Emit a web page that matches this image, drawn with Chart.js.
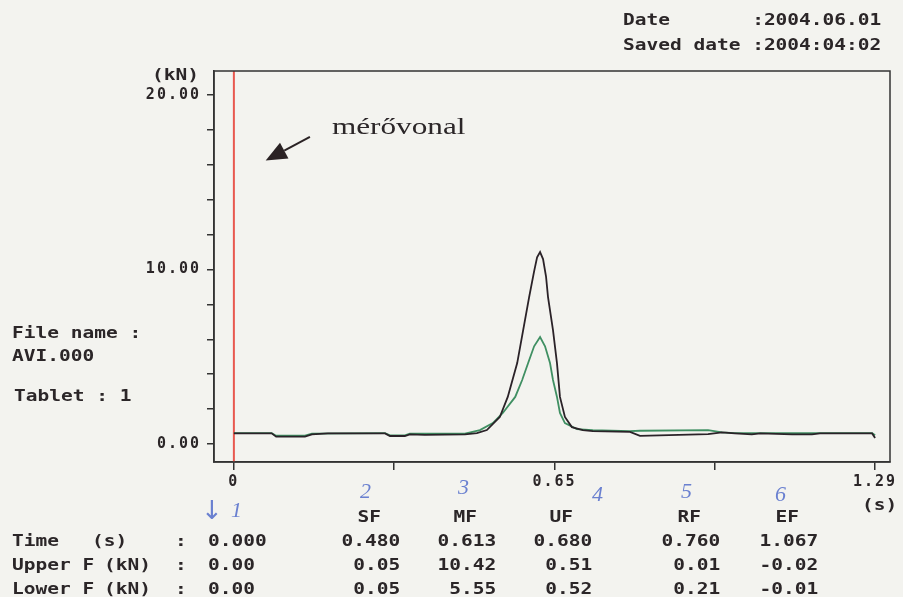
<!DOCTYPE html>
<html>
<head>
<meta charset="utf-8">
<title>AVI.000 - Tablet 1</title>
<script src="https://cdn.jsdelivr.net/npm/chart.js@4/dist/chart.umd.min.js"></script>
<style>
  html, body { margin: 0; padding: 0; background: #f3f3ef; }
  #wrap { position: relative; width: 903px; height: 597px; overflow: hidden; }
  #chart { position: absolute; left: 0; top: 0; }
  .t { position: absolute; font: bold 15px "DejaVu Sans Mono", monospace; color: #2b2628;
       white-space: pre; line-height: 16px; transform: scaleX(1.3); transform-origin: 0 50%; }
  .t.r { transform-origin: 100% 50%; text-align: right; }
  .hand { position: absolute; font: italic 22px "Liberation Serif", serif; color: #6a80d0; line-height: 22px; }
  .hand.big { font: 26px "DejaVu Sans", sans-serif; line-height: 26px; }
  .note { position: absolute; font: 24px "Liberation Serif", serif; color: #2b2628; line-height: 26px;
          transform: scaleX(1.3); transform-origin: 0 50%; white-space: pre; }
</style>
</head>
<body>
<div id="wrap">
  <canvas id="chart" width="903" height="597"></canvas>
</div>
<script>
// upper punch force (black) and lower punch force (green), kN over time, s
const upperTime = [0, 0.076, 0.085, 0.143, 0.157, 0.189, 0.304, 0.314, 0.344, 0.354, 0.384, 0.465, 0.489, 0.509, 0.535,
  0.551, 0.570, 0.582, 0.594, 0.604, 0.610, 0.616, 0.622, 0.628, 0.632, 0.642, 0.650, 0.656, 0.666, 0.680, 0.702,
  0.722, 0.797, 0.817, 0.954, 0.982, 1.008, 1.042, 1.059, 1.123, 1.163, 1.179, 1.284, 1.290];
const upperForce = [0.61, 0.61, 0.42, 0.42, 0.55, 0.61, 0.61, 0.46, 0.46, 0.55, 0.52, 0.55, 0.63, 0.80, 1.55,
  2.70, 4.64, 6.53, 8.42, 9.90, 10.70, 11.00, 10.60, 9.60, 8.42, 6.53, 4.64, 2.70, 1.55, 0.97, 0.80,
  0.74, 0.70, 0.47, 0.57, 0.67, 0.61, 0.55, 0.61, 0.55, 0.55, 0.61, 0.61, 0.35];
const lowerTime = [0, 0.076, 0.085, 0.143, 0.157, 0.304, 0.314, 0.344, 0.354, 0.465, 0.495, 0.521, 0.541, 0.566,
  0.580, 0.592, 0.604, 0.616, 0.626, 0.636, 0.642, 0.650, 0.656, 0.666, 0.690, 0.722, 0.797, 0.817, 0.954, 0.982,
  1.008, 1.284, 1.290];
const lowerForce = [0.63, 0.63, 0.48, 0.48, 0.60, 0.63, 0.50, 0.50, 0.60, 0.60, 0.80, 1.20, 1.78, 2.70,
  3.67, 4.64, 5.60, 6.13, 5.60, 4.64, 3.67, 2.70, 1.78, 1.20, 0.86, 0.80, 0.74, 0.76, 0.80, 0.67,
  0.63, 0.63, 0.50];
const markerTime = 0;

const xTicks = [0, 0.3225, 0.645, 0.9675, 1.29];
const xTickLabels = ['0', '', '0.65', '', '1.29'];
const yTicks = [0, 2, 4, 6, 8, 10, 12, 14, 16, 18, 20];
const yTickLabels = { 0: '0.00', 10: '10.00', 20: '20.00' };

// measurement table
const columnNames = ['SF', 'MF', 'UF', 'RF', 'EF'];
const rowNames = ['Time', 'Upper F', 'Lower F'];
const rowUnits = ['(s)', '(kN)', '(kN)'];
const startValues = ['0.000', '0.00', '0.00'];
const timeRow = ['0.480', '0.613', '0.680', '0.760', '1.067'];
const upperRow = ['0.05', '10.42', '0.51', '0.01', '-0.02'];
const lowerRow = ['0.05', '5.55', '0.52', '0.21', '-0.01'];
const handMarks = ['\u2193', '1', '2', '3', '4', '5', '6'];

const xMin = -0.040, xMax = 1.320, yMin = -1.03, yMax = 21.38;
const ink = '#2b2628';
const tickFont = { family: '"DejaVu Sans Mono", monospace', size: 15, weight: 'bold' };

const wrap = document.getElementById('wrap');
function addText(str, x, yc, cls, right) {
  const d = document.createElement('div');
  d.className = cls + (right ? ' r' : '');
  d.textContent = str;
  if (right) d.style.right = (903 - x) + 'px'; else d.style.left = x + 'px';
  d.style.top = (yc - 8) + 'px';
  wrap.appendChild(d);
  return d;
}

addText('Date       :2004.06.01', 623, 20, 't');
addText('Saved date :2004:04:02', 623, 45, 't');
addText('(kN)', 152, 75, 't');
addText('(s)', 862, 505, 't');
addText('File name :', 12, 333, 't');
addText('AVI.000', 12, 356, 't');
addText('Tablet : 1', 14, 396, 't');

const colRight = [400, 496, 592, 720, 818];
const rowY = [541, 565, 589];
columnNames.forEach((n, i) => addText(n, colRight[i] - 19, 517, 't', true));
[timeRow, upperRow, lowerRow].forEach((row, r) => {
  addText(rowNames[r], 12, rowY[r], 't');
  addText(rowUnits[r], r === 0 ? 92 : 104, rowY[r], 't');
  addText(':', 175, rowY[r], 't');
  addText(startValues[r], 208, rowY[r], 't');
  row.forEach((v, i) => addText(v, colRight[i], rowY[r], 't', true));
});

// handwritten numbering under the axis
const handPos = [[201, 510], [231, 510], [360, 491], [458, 487], [592, 494], [681, 491], [775, 494]];
handMarks.forEach((m, i) => {
  const d = document.createElement('div');
  d.className = 'hand' + (i === 0 ? ' big' : '');
  d.textContent = m;
  d.style.left = handPos[i][0] + 'px';
  d.style.top = (handPos[i][1] - (i === 0 ? 13 : 11)) + 'px';
  wrap.appendChild(d);
});

const note = document.createElement('div');
note.className = 'note';
note.textContent = 'mérővonal';
note.style.left = '332px';
note.style.top = '113px';
wrap.appendChild(note);

// annotation arrow, in data units
const arrowTail = { x: 0.153, y: 17.6 };
const arrowTip = { x: 0.064, y: 16.25 };

const framePlugin = {
  id: 'frame',
  beforeDraw(chart) {
    chart.ctx.letterSpacing = '2px';
  },
  afterDraw(chart) {
    const { ctx, chartArea: a, scales } = chart;
    ctx.save();
    ctx.strokeStyle = '#333';
    ctx.lineWidth = 1.5;
    ctx.strokeRect(a.left, a.top, a.right - a.left, a.bottom - a.top);

    const x1 = scales.x.getPixelForValue(arrowTail.x), y1 = scales.y.getPixelForValue(arrowTail.y);
    const x2 = scales.x.getPixelForValue(arrowTip.x), y2 = scales.y.getPixelForValue(arrowTip.y);
    const len = Math.hypot(x2 - x1, y2 - y1);
    const ux = (x2 - x1) / len, uy = (y2 - y1) / len;
    const bx = x2 - ux * 21, by = y2 - uy * 21;
    ctx.strokeStyle = '#2a2224';
    ctx.lineWidth = 2;
    ctx.beginPath();
    ctx.moveTo(x1, y1);
    ctx.lineTo(bx, by);
    ctx.stroke();
    ctx.fillStyle = '#2a2224';
    ctx.beginPath();
    ctx.moveTo(x2, y2);
    ctx.lineTo(bx - uy * 9, by + ux * 9);
    ctx.lineTo(bx + uy * 9, by - ux * 9);
    ctx.closePath();
    ctx.fill();
    ctx.restore();
  }
};

const ctx = document.getElementById('chart').getContext('2d');
new Chart(ctx, {
  type: 'line',
  data: {
    datasets: [
      {
        label: 'Upper F',
        data: upperTime.map((t, i) => ({ x: t, y: upperForce[i] })),
        borderColor: '#2a2228',
        borderWidth: 1.8,
        pointRadius: 0,
        tension: 0
      },
      {
        label: 'Lower F',
        data: lowerTime.map((t, i) => ({ x: t, y: lowerForce[i] })),
        borderColor: '#3f8f62',
        borderWidth: 1.8,
        pointRadius: 0,
        tension: 0
      },
      {
        label: 'mérővonal',
        data: [{ x: markerTime, y: yMin }, { x: markerTime, y: yMax }],
        borderColor: '#e8584f',
        borderWidth: 2,
        pointRadius: 0
      }
    ]
  },
  options: {
    responsive: false,
    animation: false,
    layout: { padding: { top: 71, right: 13, bottom: 95, left: 0 } },
    plugins: { legend: { display: false }, tooltip: { enabled: false } },
    scales: {
      x: {
        type: 'linear',
        min: xMin,
        max: xMax,
        afterBuildTicks: s => { s.ticks = xTicks.map(v => ({ value: v })); },
        afterFit: s => { s.height = 40; },
        ticks: {
          autoSkip: false,
          maxRotation: 0,
          padding: 3,
          color: ink,
          font: tickFont,
          callback: (v, i) => xTickLabels[i]
        },
        grid: { drawOnChartArea: false, tickLength: 8, color: '#333', lineWidth: 1.5 },
        border: { color: '#333', width: 1.5 }
      },
      y: {
        min: yMin,
        max: yMax,
        afterBuildTicks: s => { s.ticks = yTicks.map(v => ({ value: v })); },
        afterFit: s => { s.width = 214; },
        ticks: {
          autoSkip: false,
          padding: 6,
          color: ink,
          font: tickFont,
          callback: v => yTickLabels[v] || ''
        },
        grid: { drawOnChartArea: false, tickLength: 7, color: '#333', lineWidth: 1.5 },
        border: { color: '#333', width: 1.5 }
      }
    }
  },
  plugins: [framePlugin]
});
</script>
</body>
</html>
